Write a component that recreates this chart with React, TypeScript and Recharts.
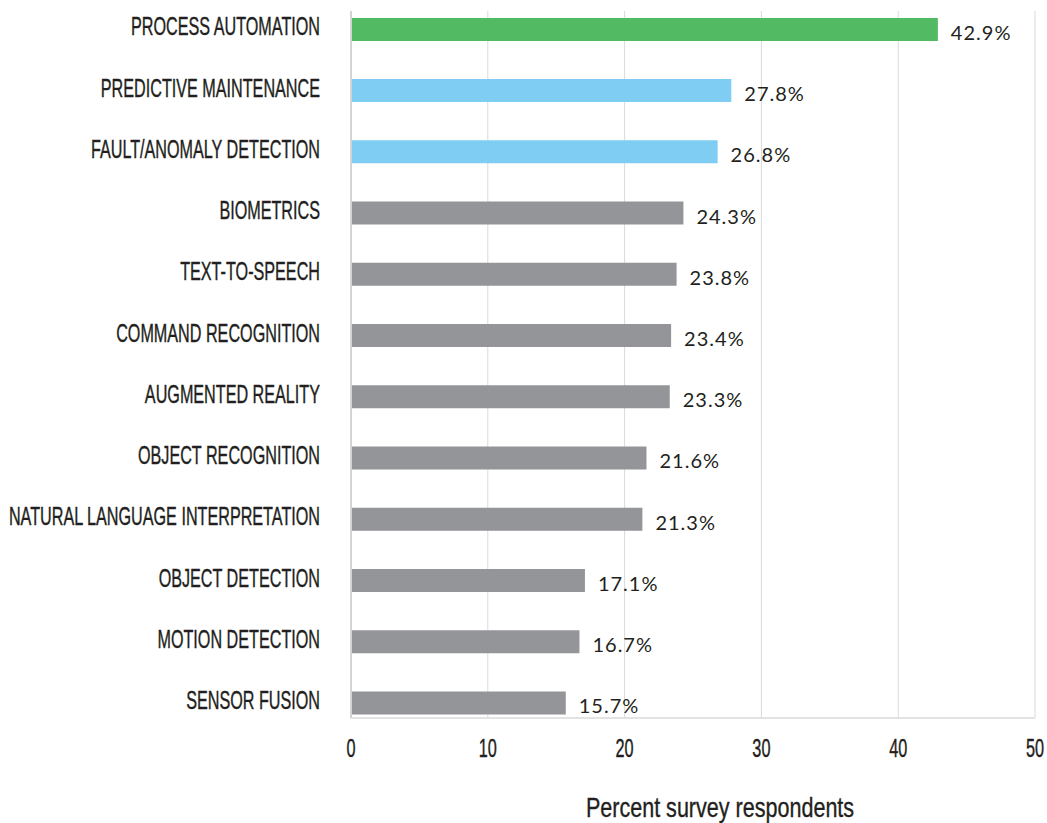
import { BarChart, Bar, XAxis, YAxis, CartesianGrid, Cell, LabelList } from 'recharts'

const categories = [
  'PROCESS AUTOMATION',
  'PREDICTIVE MAINTENANCE',
  'FAULT/ANOMALY DETECTION',
  'BIOMETRICS',
  'TEXT-TO-SPEECH',
  'COMMAND RECOGNITION',
  'AUGMENTED REALITY',
  'OBJECT RECOGNITION',
  'NATURAL LANGUAGE INTERPRETATION',
  'OBJECT DETECTION',
  'MOTION DETECTION',
  'SENSOR FUSION',
]
const values = [42.9, 27.8, 26.8, 24.3, 23.8, 23.4, 23.3, 21.6, 21.3, 17.1, 16.7, 15.7]
const barColors = [
  '#52ba63',
  '#7fcdf2',
  '#7fcdf2',
  '#939598',
  '#939598',
  '#939598',
  '#939598',
  '#939598',
  '#939598',
  '#939598',
  '#939598',
  '#939598',
]
const xTicks = [0, 10, 20, 30, 40, 50]
const rowTicks = categories.map((_, i) => i)

const data = categories.map((name, i) => ({ name, pos: i, value: values[i], color: barColors[i] }))

// condensed look: Liberation Sans squeezed sideways
const SANS = '"Liberation Sans", Arial, sans-serif'
const INK = '#231f20'
const GRID = '#dadada'

function CategoryTick({ x, y, payload }: any) {
  return (
    <text
      transform={`translate(${x},${Number(y) + 6}) scale(0.735,1.14)`}
      textAnchor="end"
      fontFamily={SANS}
      fontSize={22}
      fill={INK}
      stroke={INK}
      strokeWidth={0.35}
    >
      {categories[payload.value]}
    </text>
  )
}

function ValueTick({ x, y, payload }: any) {
  return (
    <text
      transform={`translate(${x},${Number(y) + 39}) scale(0.74,1.14)`}
      textAnchor="middle"
      fontFamily={SANS}
      fontSize={22}
      fill={INK}
      stroke={INK}
      strokeWidth={0.35}
    >
      {payload.value}
    </text>
  )
}

function ValueLabel({ x, y, width, height, value }: any) {
  return (
    <text
      x={Number(x) + Number(width) + 13}
      y={Number(y) + Number(height) / 2 + 10.5}
      fontFamily="Lato, sans-serif"
      fontSize={20}
      letterSpacing={1}
      fill={INK}
    >
      {`${Number(value).toFixed(1)}%`}
    </text>
  )
}

function AxisTitle({ viewBox }: any) {
  const cx = viewBox.x + viewBox.width / 2 + 27
  return (
    <text
      transform={`translate(${cx},817) scale(0.77,1)`}
      textAnchor="middle"
      fontFamily={SANS}
      fontSize={28}
      fill={INK}
      stroke={INK}
      strokeWidth={0.35}
    >
      Percent survey respondents
    </text>
  )
}

export default function App() {
  return (
    <div style={{ position: 'absolute', left: 0, top: 0, background: '#fff' }}>
      <BarChart
        width={1047}
        height={823}
        data={data}
        layout="vertical"
        margin={{ top: 11, right: 12, bottom: 45, left: 0 }}
      >
        <CartesianGrid horizontal={false} stroke={GRID} strokeWidth={1} />
        <XAxis
          type="number"
          dataKey="value"
          domain={[0, 50]}
          ticks={xTicks}
          height={60}
          tickSize={0}
          tickMargin={0}
          tickLine={false}
          axisLine={{ stroke: GRID, strokeWidth: 1.5 }}
          tick={<ValueTick />}
          label={<AxisTitle />}
        />
        <YAxis
          type="number"
          dataKey="pos"
          domain={[-0.302, 11.245]}
          ticks={rowTicks}
          interval={0}
          width={351}
          tickSize={0}
          tickMargin={31}
          tickLine={false}
          axisLine={{ stroke: '#d4d4d4', strokeWidth: 2 }}
          tick={<CategoryTick />}
        />
        <Bar dataKey="value" barSize={23} isAnimationActive={false}>
          {data.map((d) => (
            <Cell key={d.name} fill={d.color} />
          ))}
          <LabelList dataKey="value" content={<ValueLabel />} />
        </Bar>
      </BarChart>
    </div>
  )
}
